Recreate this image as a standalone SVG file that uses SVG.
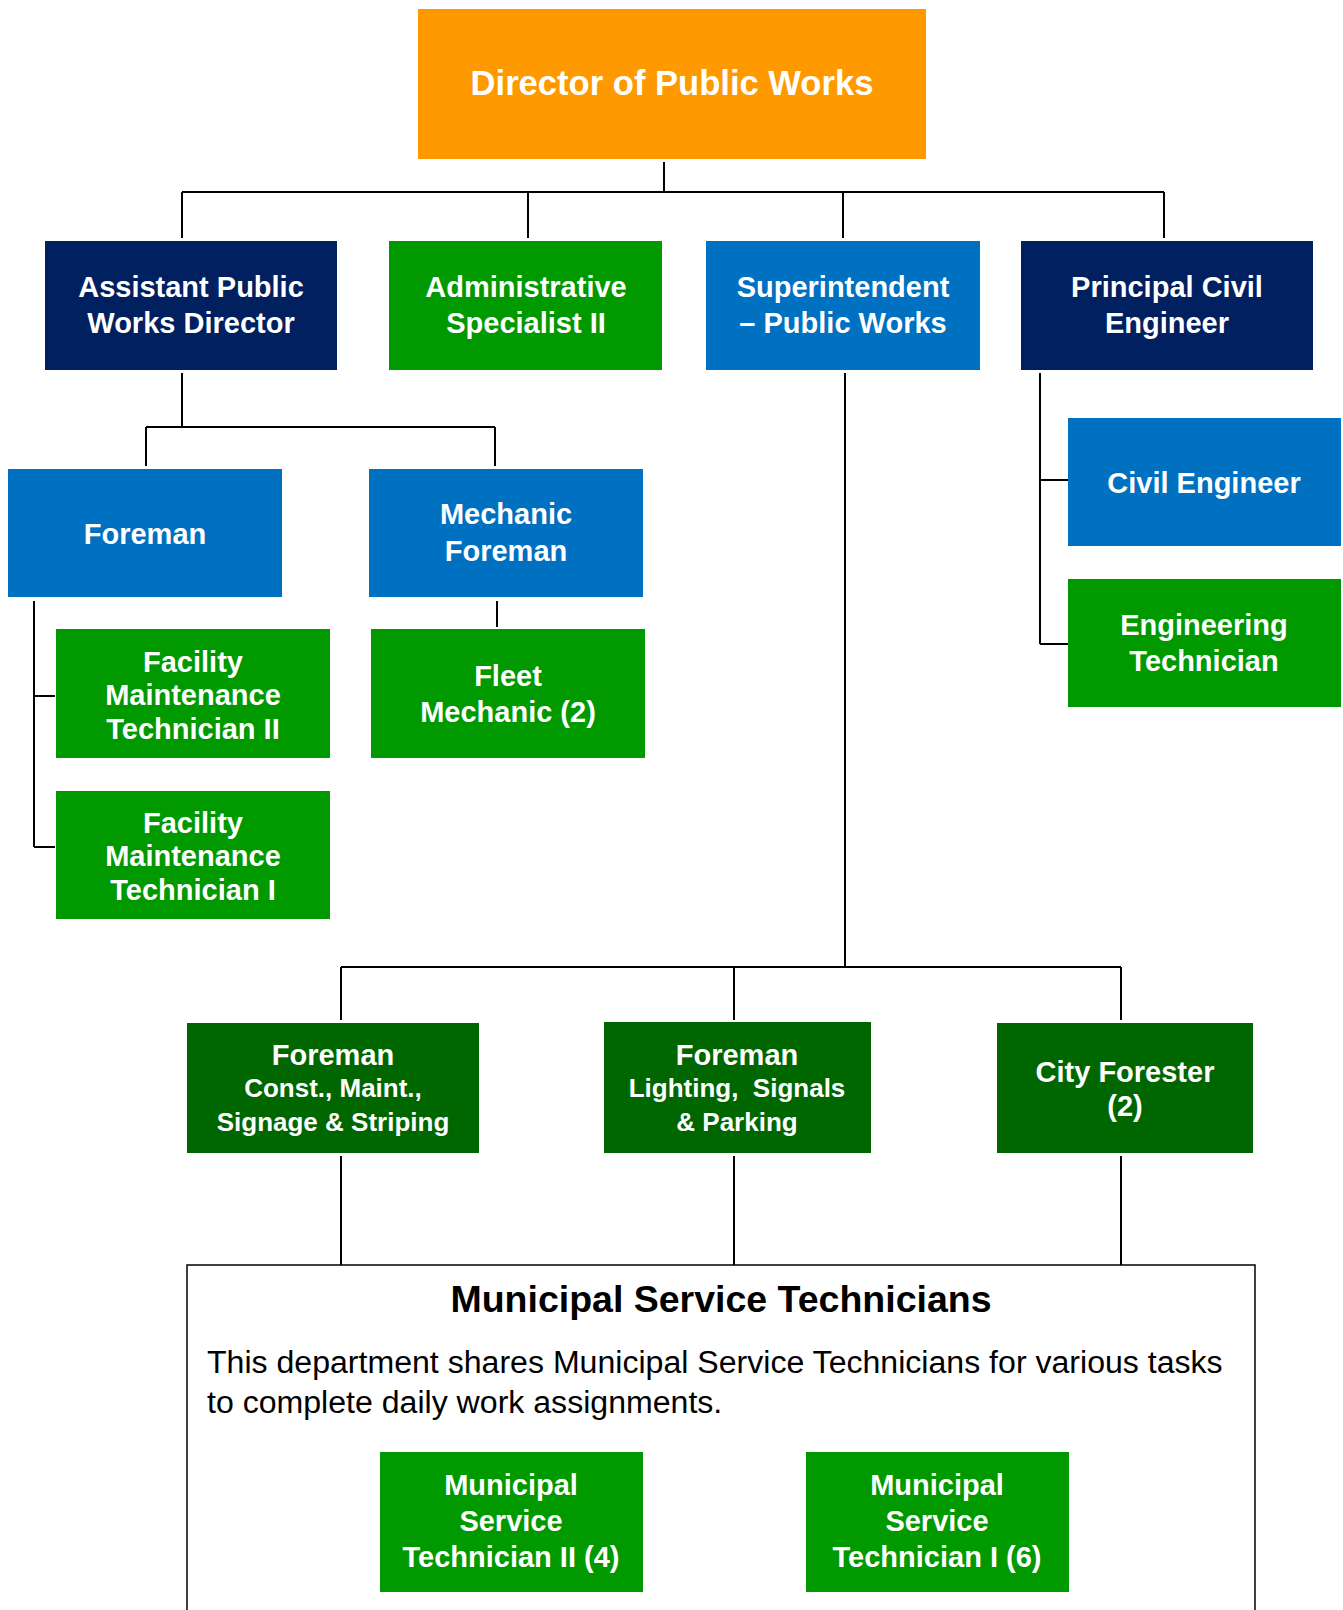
<svg xmlns="http://www.w3.org/2000/svg" width="1343" height="1610" viewBox="0 0 1343 1610">
  <style>
    .box text { font-family: "Liberation Sans", Arial, sans-serif; font-weight: bold; fill: #ffffff; text-anchor: middle; font-size: 29px; }
    .orange { fill: #ff9900; }
    .navy { fill: #002060; }
    .green { fill: #009900; }
    .blue { fill: #0070c0; }
    .dkgreen { fill: #006600; }
    .box text.sub { font-size: 26px; }
    .conn path { fill: none; stroke: #000000; stroke-width: 2; }
    .panel { fill: #ffffff; stroke: #000000; stroke-width: 1.5; }
    .panel-title { font-family: "Liberation Sans", Arial, sans-serif; font-weight: bold; font-size: 37.5px; fill: #000000; text-anchor: middle; }
    .panel-body { font-family: "Liberation Sans", Arial, sans-serif; font-size: 32.1px; fill: #000000; }
  </style>

  <!-- connectors -->
  <g id="connectors" class="conn">
    <path d="M664 162 V192 M182 192 H1164 M182 192 V238 M528 192 V238 M843 192 V238 M1164 192 V238"/>
    <path d="M182 373 V427 M146 427 H495 M146 427 V466 M495 427 V466"/>
    <path d="M34 601 V847 M34 696 H55 M34 847 H55"/>
    <path d="M497 601 V627"/>
    <path d="M1040 373 V644 M1040 480 H1068 M1040 644 H1068"/>
    <path d="M845 373 V967 M341 967 H1121 M341 967 V1020 M734 967 V1020 M1121 967 V1020"/>
    <path d="M341 1156 V1265 M734 1156 V1265 M1121 1156 V1265"/>
  </g>

  <!-- shared technicians panel -->
  <g id="msTechPanel">
    <rect class="panel" x="187" y="1265" width="1068" height="360"/>
    <text class="panel-title" x="721" y="1312">Municipal Service Technicians</text>
    <text class="panel-body" x="207" y="1373">This department shares Municipal Service Technicians for various tasks</text>
    <text class="panel-body" x="207" y="1413">to complete daily work assignments.</text>
  </g>

  <g id="director" class="box">
    <rect class="orange" x="418" y="9" width="508" height="150"/>
    <text x="672" y="95" style="font-size:34.6px">Director of Public Works</text>
  </g>

  <g id="assistantDirector" class="box">
    <rect class="navy" x="45" y="241" width="292" height="129"/>
    <text x="191" y="297">Assistant Public</text>
    <text x="191" y="333">Works Director</text>
  </g>

  <g id="adminSpecialist" class="box">
    <rect class="green" x="389" y="241" width="273" height="129"/>
    <text x="526" y="297">Administrative</text>
    <text x="526" y="333">Specialist II</text>
  </g>

  <g id="superintendent" class="box">
    <rect class="blue" x="706" y="241" width="274" height="129"/>
    <text x="843" y="297">Superintendent</text>
    <text x="843" y="333">– Public Works</text>
  </g>

  <g id="principalCivil" class="box">
    <rect class="navy" x="1021" y="241" width="292" height="129"/>
    <text x="1167" y="297">Principal Civil</text>
    <text x="1167" y="333">Engineer</text>
  </g>

  <g id="foreman" class="box">
    <rect class="blue" x="8" y="469" width="274" height="128"/>
    <text x="145" y="544">Foreman</text>
  </g>

  <g id="mechanicForeman" class="box">
    <rect class="blue" x="369" y="469" width="274" height="128"/>
    <text x="506" y="524">Mechanic</text>
    <text x="506" y="561">Foreman</text>
  </g>

  <g id="facilityTech2" class="box">
    <rect class="green" x="56" y="629" width="274" height="129"/>
    <text x="193" y="672">Facility</text>
    <text x="193" y="705">Maintenance</text>
    <text x="193" y="739">Technician II</text>
  </g>

  <g id="facilityTech1" class="box">
    <rect class="green" x="56" y="791" width="274" height="128"/>
    <text x="193" y="833">Facility</text>
    <text x="193" y="866">Maintenance</text>
    <text x="193" y="900">Technician I</text>
  </g>

  <g id="fleetMechanic" class="box">
    <rect class="green" x="371" y="629" width="274" height="129"/>
    <text x="508" y="686">Fleet</text>
    <text x="508" y="722">Mechanic (2)</text>
  </g>

  <g id="civilEngineer" class="box">
    <rect class="blue" x="1068" y="418" width="273" height="128"/>
    <text x="1204" y="493">Civil Engineer</text>
  </g>

  <g id="engineeringTech" class="box">
    <rect class="green" x="1068" y="579" width="273" height="128"/>
    <text x="1204" y="635">Engineering</text>
    <text x="1204" y="671">Technician</text>
  </g>

  <g id="foremanConst" class="box">
    <rect class="dkgreen" x="187" y="1023" width="292" height="130"/>
    <text x="333" y="1065">Foreman</text>
    <text class="sub" x="333" y="1097">Const., Maint.,</text>
    <text class="sub" x="333" y="1131">Signage &amp; Striping</text>
  </g>

  <g id="foremanLighting" class="box">
    <rect class="dkgreen" x="604" y="1022" width="267" height="131"/>
    <text x="737" y="1065">Foreman</text>
    <text class="sub" x="737" y="1097" xml:space="preserve">Lighting,  Signals</text>
    <text class="sub" x="737" y="1131">&amp; Parking</text>
  </g>

  <g id="cityForester" class="box">
    <rect class="dkgreen" x="997" y="1023" width="256" height="130"/>
    <text x="1125" y="1082">City Forester</text>
    <text x="1125" y="1116">(2)</text>
  </g>

  <g id="msTech2" class="box">
    <rect class="green" x="380" y="1452" width="263" height="140"/>
    <text x="511" y="1495">Municipal</text>
    <text x="511" y="1531">Service</text>
    <text x="511" y="1567">Technician II (4)</text>
  </g>

  <g id="msTech1" class="box">
    <rect class="green" x="806" y="1452" width="263" height="140"/>
    <text x="937" y="1495">Municipal</text>
    <text x="937" y="1531">Service</text>
    <text x="937" y="1567">Technician I (6)</text>
  </g>
</svg>
